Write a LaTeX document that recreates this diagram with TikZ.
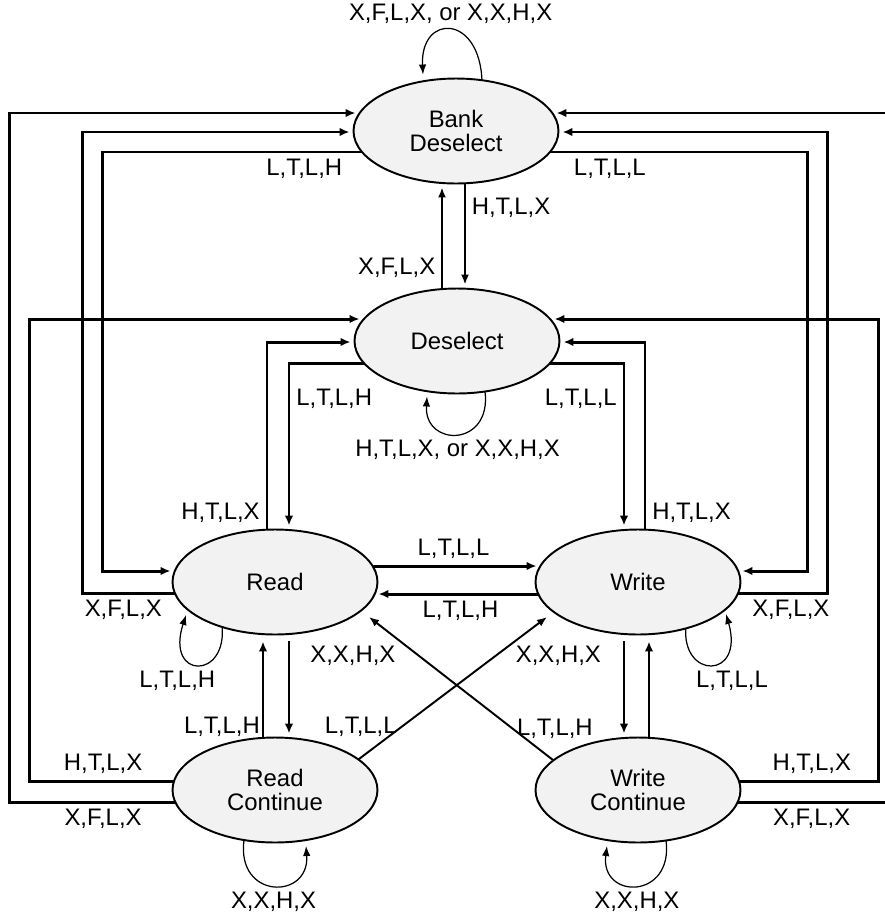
\documentclass[tikz,border=0pt]{standalone}
\usepackage{fontspec}
\setmainfont{Liberation Sans}
\usepackage{tikz}
\usetikzlibrary{calc}
\usetikzlibrary{backgrounds}
\usetikzlibrary{shapes.geometric}
\usetikzlibrary{arrows.meta}
\definecolor{stategray}{gray}{0.95}

\tikzset{
  stateoval/.style={ellipse, draw, line width=1.1pt, fill=stategray,
    minimum width=4.1cm, minimum height=2.1cm, inner sep=0pt, align=center},
  wire/.style={line width=1.7pt, -{Latex[length=2mm,width=1.7mm]}},
  link/.style={line width=1.1pt, -{Latex[length=2mm,width=1.6mm]}},
  selfloop/.style={line width=.7pt, -{Latex[length=2mm,width=1.5mm]}}
}

\begin{document}
\begin{tikzpicture}[x=0.02cm, y=-0.02cm, font=\fontsize{13.6}{13.6}\selectfont]
\useasboundingbox (0,0) rectangle (885,917);

\node[stateoval] (bank)  at (456,131) {Bank\\Deselect};
\node[stateoval] (desel) at (457,341) {Deselect};
\node[stateoval] (read)  at (275,582) {Read};
\node[stateoval] (write) at (638,582) {Write};
\node[stateoval] (rcont) at (275,790) {Read\\Continue};
\node[stateoval] (wcont) at (638,790) {Write\\Continue};

\begin{pgfonlayer}{background}
% left side
\draw[wire] ($(rcont.west)+(8,12)$) -- node[below,pos=.45]{X,F,L,X} ++(-170,0) |- ($(bank.west)+(3,-18)$);
\draw[wire] ($(rcont.west)+(8,-9)$) -- node[above,pos=.51]{H,T,L,X} ++(-150,0) |- ($(desel.west)+(6,-22)$);
\draw[wire] ($(read.west)+(8,11)$) -- node[below,pos=.58]{X,F,L,X} ++(-97,0) |- ($(bank.west)+(-3,1)$);
\draw[wire] ($(bank.west)+(12,21)$) -- node[below,pos=.23]{L,T,L,H} ++(-262,0) |- ($(read.west)+(-1,-11)$);
\draw[wire] ($(read.north)+(-8,8)$) |- node[left,pos=.06]{H,T,L,X} ($(desel.west)+(-3,1)$);
\draw[wire] ($(desel.west)+(12,22)$) -| node[right,pos=.61]{L,T,L,H} ($(read.north)+(14,-3)$);

% right side
\draw[wire] ($(wcont.east)+(-8,12)$) -- node[below,pos=.46]{X,F,L,X} ++(170,0) |- ($(bank.east)+(-3,-18)$);
\draw[wire] ($(wcont.east)+(-8,-9)$) -- node[above,pos=.54]{H,T,L,X} ++(145,0) |- ($(desel.east)+(-6,-22)$);
\draw[wire] ($(write.east)+(-8,11)$) -- node[below,pos=.61]{X,F,L,X} ++(94,0) |- ($(bank.east)+(3,1)$);
\draw[wire] ($(bank.east)+(-12,21)$) -- node[below,pos=.24]{L,T,L,L} ++(260,0) |- ($(write.east)+(1,-11)$);
\draw[wire] ($(write.north)+(7,8)$) |- node[right,pos=.06]{H,T,L,X} ($(desel.east)+(3,1)$);
\draw[wire] ($(desel.east)+(-12,22)$) -| node[left,pos=.61]{L,T,L,L} ($(write.north)+(-14,-3)$);

% middle
\draw[link] ($(bank.south)+(9,-4)$) -- node[right,pos=.26]{H,T,L,X} ($(desel.north)+(8,-3)$);
\draw[link] ($(desel.north)+(-15,4)$) -- node[left,pos=.23]{X,F,L,X} ($(bank.south)+(-14,3)$);
\draw[wire] ($(read.east)+(-8,-16)$) -- node[above]{L,T,L,L} ($(write.west)+(2,-16)$);
\draw[wire] ($(write.west)+(8,12)$) -- node[below]{L,T,L,H} ($(read.east)+(0,12)$);
\draw[wire] ($(read.south)+(14,6)$) -- node[right=8pt,pos=.16]{X,X,H,X} ($(rcont.north)+(14,-3)$);
\draw[wire] ($(rcont.north)+(-12,4)$) -- node[left,inner sep=1pt,pos=.14]{L,T,L,H} ($(read.south)+(-12,6)$);
\draw[wire] ($(write.south)+(-14,6)$) -- node[left=9pt,pos=.16]{X,X,H,X} ($(wcont.north)+(-14,-3)$);
\draw[wire] ($(wcont.north)+(11,4)$) -- ($(write.south)+(11,6)$);
\draw[link] ($(rcont.center)+(80,-28)$) -- node[left,inner sep=2pt,pos=.24]{L,T,L,L} ($(write.center)+(-91,35)$);
\draw[link] ($(wcont.center)+(-85,-30)$) -- node[right,inner sep=2pt,pos=.22]{L,T,L,H} ($(read.center)+(94,35)$);

% self loops
\draw[selfloop] ($(bank.north)+(26,4)$) .. controls ($(bank.north)+(24,-64)$) and ($(bank.north)+(-36,-64)$) .. ($(bank.north)+(-33,-3)$)
  node[above,inner sep=3pt,pos=.5]{X,F,L,X, or X,X,H,X};
\draw[selfloop] ($(desel.south)+(28,-3)$) .. controls ($(desel.south)+(35,53)$) and ($(desel.south)+(-33,53)$) .. ($(desel.south)+(-30,2)$)
  node[below,pos=.5]{H,T,L,X, or X,X,H,X};
\draw[selfloop] ($(read.center)+(-53,43)$) .. controls ($(read.center)+(-47,98)$) and ($(read.center)+(-110,98)$) .. ($(read.center)+(-89,33)$)
  node[below,xshift=-12pt,pos=.5]{L,T,L,H};
\draw[selfloop] ($(write.center)+(48,43)$) .. controls ($(write.center)+(42,98)$) and ($(write.center)+(107,98)$) .. ($(write.center)+(88,32)$)
  node[below,xshift=12pt,pos=.5]{L,T,L,L};
\draw[selfloop] ($(rcont.center)+(-31,50)$) .. controls ($(rcont.center)+(-39,110)$) and ($(rcont.center)+(35,110)$) .. ($(rcont.center)+(31,56)$)
  node[below,pos=.5]{X,X,H,X};
\draw[selfloop] ($(wcont.center)+(28,50)$) .. controls ($(wcont.center)+(36,110)$) and ($(wcont.center)+(-38,110)$) .. ($(wcont.center)+(-31,56)$)
  node[below,pos=.5]{X,X,H,X};
\end{pgfonlayer}
\end{tikzpicture}
\end{document}
